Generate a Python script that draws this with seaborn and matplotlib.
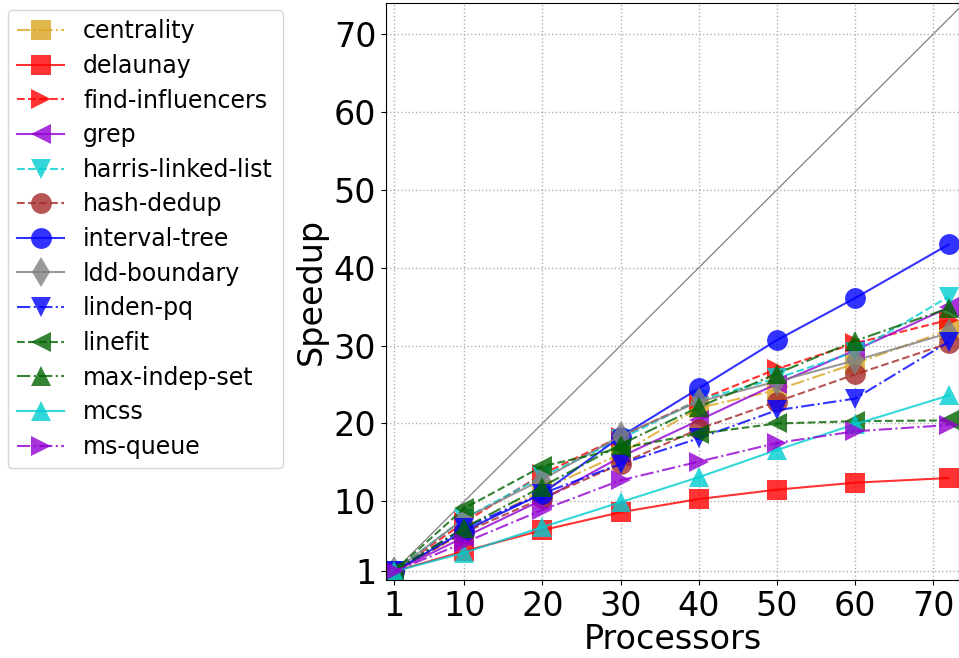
import matplotlib
matplotlib.use("Agg")
import matplotlib.pyplot as plt
import numpy as np
import pandas as pd
import seaborn as sns

procs = [1, 10, 20, 30, 40, 50, 60, 72]

benchmarks = ["centrality", "delaunay", "find-influencers", "grep",
              "harris-linked-list", "hash-dedup", "interval-tree",
              "ldd-boundary", "linden-pq", "linefit", "max-indep-set",
              "mcss", "ms-queue"]

speedups = {
    "centrality":         [1, 6.0, 11.5, 16.1, 22.0, 24.3, 27.7, 32.0],
    "delaunay":           [1, 3.6, 6.3, 8.6, 10.3, 11.5, 12.4, 13.0],
    "find-influencers":   [1, 7.3, 13.5, 18.3, 23.0, 27.0, 30.3, 33.3],
    "grep":               [1, 5.4, 10.2, 15.7, 20.4, 25.1, 29.4, 34.9],
    "harris-linked-list": [1, 7.8, 13.2, 18.0, 23.0, 25.8, 29.2, 36.3],
    "hash-dedup":         [1, 6.0, 10.4, 14.8, 19.3, 22.8, 26.3, 30.3],
    "interval-tree":      [1, 6.2, 11.0, 18.3, 24.5, 30.7, 36.1, 43.0],
    "ldd-boundary":       [1, 7.8, 12.8, 18.4, 22.8, 25.4, 28.1, 31.6],
    "linden-pq":          [1, 6.6, 11.0, 14.8, 18.1, 21.7, 23.2, 30.5],
    "linefit":            [1, 9.1, 14.5, 16.8, 18.7, 20.0, 20.3, 20.4],
    "max-indep-set":      [1, 6.6, 11.9, 17.3, 22.1, 26.4, 30.6, 34.8],
    "mcss":               [1, 3.4, 6.7, 9.9, 13.1, 16.6, 19.9, 23.6],
    "ms-queue":           [1, 4.7, 8.9, 12.7, 15.1, 17.5, 19.0, 19.8],
}

colors = ["goldenrod", "red", "red", "darkviolet", "darkturquoise", "brown",
          "blue", "gray", "blue", "darkgreen", "darkgreen", "darkturquoise",
          "darkviolet"]
markers = ["s", "s", ">", "<", "v", "o", "o", "d", "v", "<", "^", "^", ">"]
linestyles = ["-.", "-", "--", "-", "--", "--", "-", "-", "-.", "--", "-.",
              "-", "-."]

ticks = [1, 10, 20, 30, 40, 50, 60, 70]

df = pd.DataFrame([
    {"bench": b, "Processors": p, "Speedup": s}
    for b in benchmarks for p, s in zip(procs, speedups[b])
])

fig = plt.figure(figsize=(9.59, 6.58), dpi=100)
ax = fig.add_axes([0.4025, 0.1185, 0.5975, 0.877])

# ideal speedup
ax.axline((1, 1), slope=1, color="gray", linewidth=0.9, zorder=1)

for b, c, m, ls in zip(benchmarks, colors, markers, linestyles):
    sub = df[df["bench"] == b]
    sns.lineplot(data=sub, x="Processors", y="Speedup", ax=ax, color=c,
                 marker=m, linestyle=ls, markersize=15, alpha=0.8,
                 markeredgewidth=0, linewidth=1.5, label=b)

ax.set_xlim(0, 73.3)
ax.set_ylim(-0.1, 74)
ax.set_xticks(ticks)
ax.set_yticks(ticks)
ax.tick_params(labelsize=24)
ax.set_xlabel("Processors", fontsize=24, labelpad=0)
ax.set_ylabel("Speedup", fontsize=24)
ax.grid(True, linestyle=":", color="#b0b0b0", linewidth=1)

handles, labels = ax.get_legend_handles_labels()
ax.get_legend().remove()
fig.legend(handles, labels, loc="upper left", bbox_to_anchor=(0.008, 0.985),
           fontsize=17, labelspacing=0.45, borderaxespad=0)

fig.savefig("out.png", dpi=100)
